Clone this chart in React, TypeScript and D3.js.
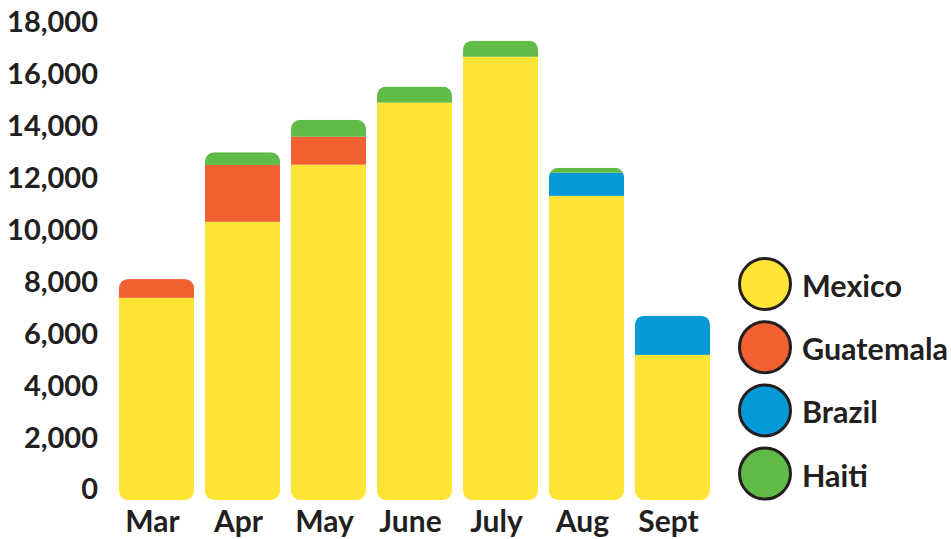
import React from "react";
import * as d3 from "d3";

const WIDTH = 951;
const HEIGHT = 539;

const months = ["Mar", "Apr", "May", "June", "July", "Aug", "Sept"];
const countries = ["Mexico", "Guatemala", "Brazil", "Haiti"];
const colors = ["#FEE535", "#F25F30", "#059AD7", "#61BC47"];

const mexico = [7370, 10300, 12500, 14890, 16660, 11300, 5170];
const guatemala = [720, 2190, 1080, 0, 0, 0, 0];
const brazil = [0, 0, 0, 0, 0, 890, 1510];
const haiti = [0, 490, 650, 620, 620, 190, 0];

const yTicks = [0, 2000, 4000, 6000, 8000, 10000, 12000, 14000, 16000, 18000];

const TEXT = "#231F20";
const FONT = "Lato, 'Open Sans', sans-serif";

const App = () => {
  const rows = months.map((m, i) => ({
    month: m,
    Mexico: mexico[i],
    Guatemala: guatemala[i],
    Brazil: brazil[i],
    Haiti: haiti[i],
  }));

  const xScale = d3
    .scaleBand()
    .domain(months)
    .range([113.5, 715.5])
    .paddingInner(0.128)
    .paddingOuter(0.064);

  const yScale = d3.scaleLinear().domain([0, 18000]).range([489, 22]);

  const stack = d3.stack().keys(countries)(rows as any);
  const color = d3.scaleOrdinal<string>().domain(countries).range(colors);
  const fmt = d3.format(",");

  const r = 9;
  const extra = 11; // bars run a little below the zero line

  return (
    <svg
      width={WIDTH}
      height={HEIGHT}
      style={{ position: "absolute", left: 0, top: 0 }}
      fontFamily={FONT}
    >
      <defs>
        {rows.map((d, i) => {
          const total = mexico[i] + guatemala[i] + brazil[i] + haiti[i];
          const x = xScale(d.month)!;
          const top = yScale(total);
          return (
            <clipPath id={`bar-${i}`} key={i}>
              <rect
                x={x}
                y={top}
                width={xScale.bandwidth()}
                height={yScale(0) + extra - top}
                rx={r}
                ry={r}
              />
            </clipPath>
          );
        })}
      </defs>

      {rows.map((d, i) => (
        <g key={d.month} clipPath={`url(#bar-${i})`}>
          {stack.map((layer) => {
            const [y0, y1] = layer[i];
            if (y1 - y0 <= 0) return null;
            const bottom = y0 === 0 ? yScale(0) + extra : yScale(y0);
            return (
              <rect
                key={layer.key}
                x={xScale(d.month)}
                y={yScale(y1)}
                width={xScale.bandwidth()}
                height={bottom - yScale(y1)}
                fill={color(layer.key)}
              />
            );
          })}
        </g>
      ))}

      {/* y axis labels */}
      <g>
        {yTicks.map((t) => (
          <text
            key={t}
            x={98}
            y={yScale(t)}
            dy="0.36em"
            textAnchor="end"
            fontSize={29}
            fontWeight={700}
            fill={TEXT}
          >
            {fmt(t)}
          </text>
        ))}
      </g>

      {/* x axis labels */}
      <g>
        {months.map((m) => (
          <text
            key={m}
            x={xScale(m)! + xScale.bandwidth() / 2 - 4}
            y={532}
            textAnchor="middle"
            fontSize={30}
            fontWeight={700}
            fill={TEXT}
          >
            {m}
          </text>
        ))}
      </g>

      {/* legend */}
      <g>
        {countries.map((c, i) => (
          <g key={c} transform={`translate(765, ${284 + i * 63.2})`}>
            <circle r={25.5} fill={color(c)} stroke={TEXT} strokeWidth={3} />
            <text
              x={37}
              y={2}
              dy="0.36em"
              fontSize={30.5}
              fontWeight={700}
              fill={TEXT}
            >
              {c}
            </text>
          </g>
        ))}
      </g>
    </svg>
  );
};

export default App;
